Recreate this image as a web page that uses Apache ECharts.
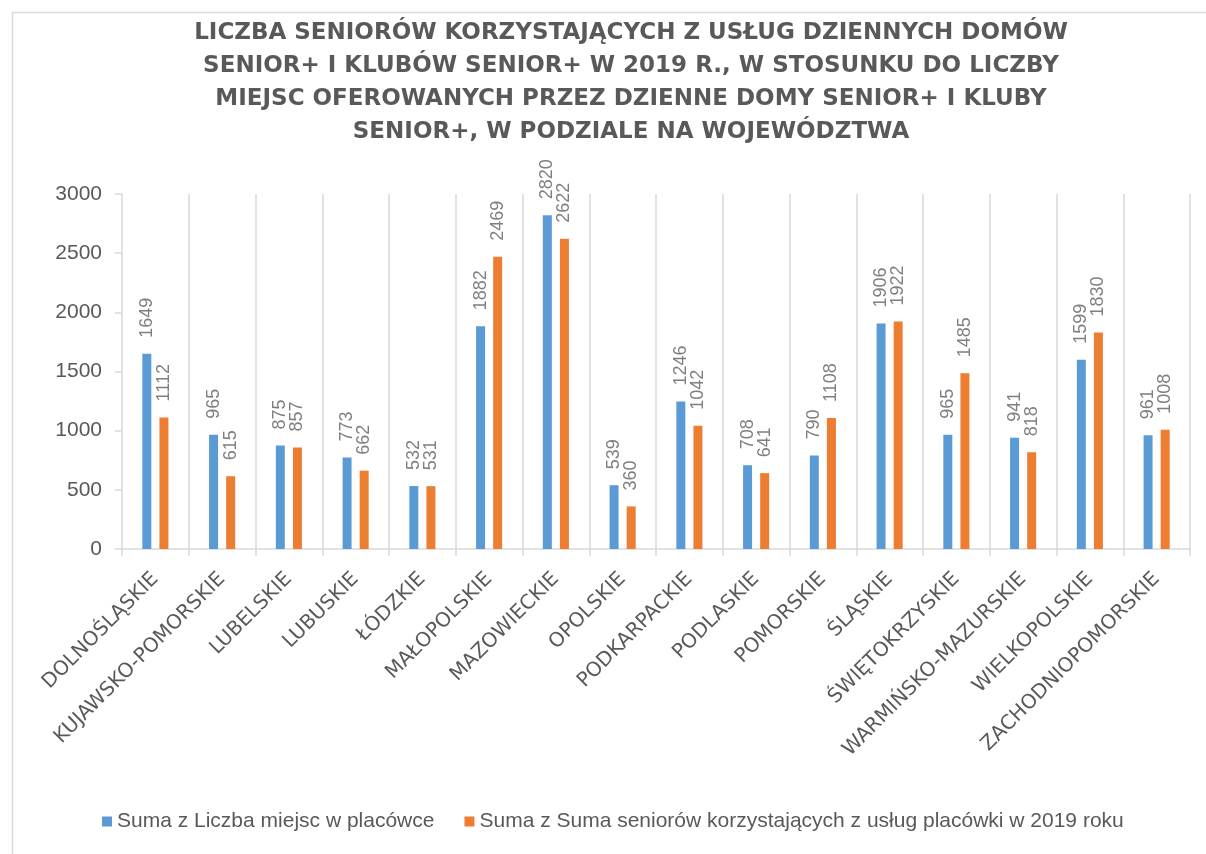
<!DOCTYPE html>
<html>
<head>
<meta charset="utf-8">
<script src="https://cdn.jsdelivr.net/npm/echarts@6/dist/echarts.min.js"></script>
<style>
  html, body { margin: 0; padding: 0; background: #fff; }
  #chart { width: 1206px; height: 854px; }
</style>
</head>
<body>
<div id="chart"></div>
<script>
var wojewodztwa = ['DOLNOŚLĄSKIE', 'KUJAWSKO-POMORSKIE', 'LUBELSKIE', 'LUBUSKIE', 'ŁÓDZKIE',
	'MAŁOPOLSKIE', 'MAZOWIECKIE', 'OPOLSKIE', 'PODKARPACKIE', 'PODLASKIE', 'POMORSKIE',
	'ŚLĄSKIE', 'ŚWIĘTOKRZYSKIE', 'WARMIŃSKO-MAZURSKIE', 'WIELKOPOLSKIE', 'ZACHODNIOPOMORSKIE'];
var miejsca = [1649, 965, 875, 773, 532, 1882, 2820, 539, 1246, 708, 790, 1906, 965, 941, 1599, 961];
var seniorzy = [1112, 615, 857, 662, 531, 2469, 2622, 360, 1042, 641, 1108, 1922, 1485, 818, 1830, 1008];
var nazwySerii = ['Suma z Liczba miejsc w placówce', 'Suma z Suma seniorów korzystających z usług placówki w 2019 roku'];
var tytul = 'LICZBA SENIORÓW KORZYSTAJĄCYCH Z USŁUG DZIENNYCH DOMÓW\n' +
	'SENIOR+ I KLUBÓW SENIOR+ W 2019 R., W STOSUNKU DO LICZBY\n' +
	'MIEJSC OFEROWANYCH PRZEZ DZIENNE DOMY SENIOR+ I KLUBY\n' +
	'SENIOR+, W PODZIALE NA WOJEWÓDZTWA';

var etykieta = {
	show : true,
	position : 'top',
	rotate : 90,
	align : 'left',
	verticalAlign : 'middle',
	distance : 16,
	color : '#7f7f7f',
	fontSize : 18,
	fontFamily : 'Liberation Sans'
};

var option = {
	backgroundColor : '#fff',
	animation : false,
	graphic : [ {
		type : 'rect',
		left : 10,
		top : 10,
		shape : { width : 1300, height : 1000 },
		style : { fill : 'none', stroke : '#d9d9d9', lineWidth : 1.5 }
	} ],
	title : {
		text : tytul,
		left : 626,
		textAlign : 'center',
		top : 12,
		textStyle : {
			fontSize : 23,
			fontWeight : 'bold',
			color : '#595959',
			lineHeight : 33,
			fontFamily : 'DejaVu Sans'
		}
	},
	legend : {
		data : nazwySerii,
		bottom : 17,
		left : 97,
		icon : 'rect',
		itemWidth : 10,
		itemHeight : 10,
		itemGap : 30,
		textStyle : {
			fontSize : 21,
			color : '#595959',
			fontFamily : 'Liberation Sans'
		}
	},
	grid : {
		left : 122,
		right : 16,
		top : 194,
		bottom : 305
	},
	xAxis : [ {
		type : 'category',
		data : wojewodztwa,
		axisLine : { lineStyle : { color : '#d9d9d9', width : 1.5 } },
		axisTick : { show : true, length : 7, lineStyle : { color : '#d9d9d9', width : 1.5 } },
		splitLine : { show : true, lineStyle : { color : '#d9d9d9', width : 1.5 } },
		axisLabel : {
			rotate : 45,
			interval : 0,
			margin : 27,
			color : '#595959',
			fontSize : 20,
			fontFamily : 'DejaVu Sans'
		}
	} ],
	yAxis : [ {
		type : 'value',
		min : 0,
		max : 3000,
		interval : 500,
		axisLine : { show : false },
		axisTick : { show : true, length : 7, lineStyle : { color : '#d9d9d9', width : 1.5 } },
		splitLine : { show : false },
		axisLabel : {
			color : '#595959',
			fontSize : 21,
			margin : 20,
			fontFamily : 'Liberation Sans',
			formatter : function(v) { return String(v); }
		}
	} ],
	series : [ {
		name : nazwySerii[0],
		type : 'bar',
		data : miejsca,
		barWidth : 9,
		barGap : '90%',
		itemStyle : { color : '#5b9bd5' },
		label : etykieta
	}, {
		name : nazwySerii[1],
		type : 'bar',
		data : seniorzy,
		barWidth : 9,
		itemStyle : { color : '#ed7d31' },
		label : etykieta
	} ]
};

var chart = echarts.init(document.getElementById('chart'));
chart.setOption(option);
</script>
</body>
</html>
